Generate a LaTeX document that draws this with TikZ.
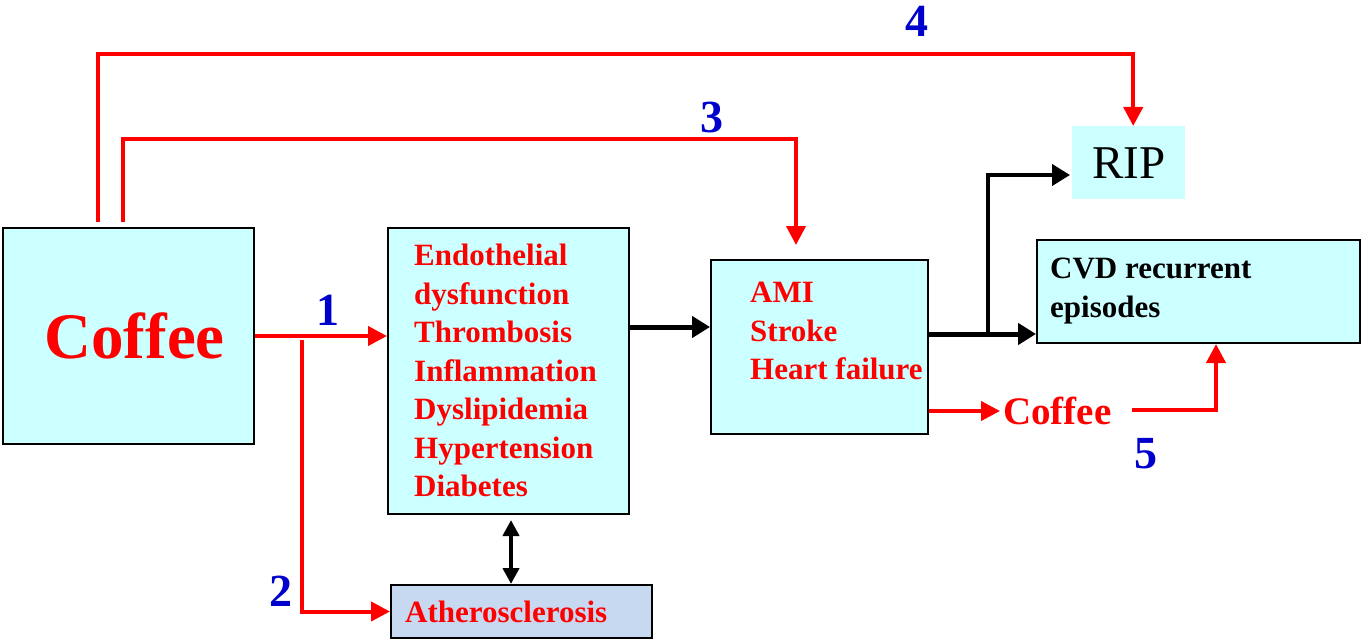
\documentclass[tikz,border=0pt]{standalone}
\usepackage{fontspec}
\setmainfont{Liberation Serif}
\usetikzlibrary{arrows.meta,calc}
\definecolor{boxcyan}{HTML}{CCFFFF}
\definecolor{athblue}{HTML}{C6D9F1}
\definecolor{numblue}{HTML}{0000CC}
\definecolor{myred}{HTML}{FF0000}
\begin{document}
\begin{tikzpicture}[x=1pt,y=-1pt,
  box/.style={draw=black, line width=2pt, fill=boxcyan, anchor=north west, inner sep=0pt},
  lbl/.style={anchor=north west, inner sep=0pt, align=left, font=\fontsize{31}{38.5}\selectfont\bfseries},
  num/.style={text=numblue, font=\fontsize{46}{46}\selectfont\bfseries, inner sep=0pt},
  redln/.style={draw=myred, line width=4pt},
  redarr/.style={redln, -{Triangle[length=19pt,width=19pt]}},
  blkarr/.style={draw=black, line width=5pt, -{Triangle[length=18pt,width=21pt]}},
]
\useasboundingbox (0,0) rectangle (1362,639);

% boxes
\node[box, minimum width=251pt, minimum height=216pt,
      text=myred, font=\fontsize{65}{65}\selectfont\bfseries] (coffee) at (2,227) {\hspace{12pt}Coffee};
\node[box, minimum width=241pt, minimum height=286pt] (endo) at (387,227) {};
\node[box, minimum width=217pt, minimum height=174pt] (ami) at (710,259) {};
\node[box, minimum width=323pt, minimum height=103pt] (cvd) at (1036,239) {};
\node[box, fill=athblue, minimum width=261pt, minimum height=53pt] (ath) at (390,584) {};
\node[fill=boxcyan, anchor=north west, inner sep=0pt, minimum width=113pt, minimum height=73pt,
      font=\fontsize{47}{47}\selectfont, text=black] (rip) at (1072,126) {RIP\hspace{20pt}};

% texts
\node[lbl, text=myred] (endotxt) at (414,244)
  {Endothelial\\dysfunction\\Thrombosis\\Inflammation\\Dyslipidemia\\Hypertension\\Diabetes};
\node[lbl, text=myred] (amitxt) at (750,282) {AMI\\Stroke\\Heart failure};
\node[lbl, text=black] (cvdtxt) at (1050,258) {CVD recurrent\\episodes};
\node[lbl, anchor=base west, text=myred] (athtxt) at (405,622) {Atherosclerosis};
\node[anchor=base west, inner sep=0pt, text=myred, font=\fontsize{39}{39}\selectfont\bfseries] (coffee2) at (1003,424) {Coffee};

% numbers
\node[num] (n1) at (328,310) {1};
\node[num] (n2) at (280.5,591) {2};
\node[num] (n3) at (711.5,117.5) {3};
\node[num] (n4) at (917,21) {4};
\node[num] (n5) at (1146,453.5) {5};

% red connectors
\draw[redarr] (coffee.east) -- (coffee.east -| endo.west);
\coordinate (b2) at (302,340);
\draw[redarr] (b2) |- (ath.west);
\draw[redarr] ($(coffee.north)+(-30.5,-5)$) -- ++(0,-168) -| ([xshift=4.5pt]rip.north);
\draw[redarr] ($(coffee.north)+(-5.5,-5)$) -- ++(0,-83) -| ([xshift=-23.5pt,yshift=14pt]ami.north);
\draw[redarr] (ami.east |- 0,411) -- ([xshift=-3pt]coffee2.west |- 0,411);
\draw[redarr] ([xshift=20pt]coffee2.east |- 0,410) -| ([xshift=17.5pt]cvd.south);

% black connectors
\draw[blkarr] (endo.east |- 0,327) -- (ami.west |- 0,327);
\draw[blkarr] (ami.east |- 0,334) -- (cvd.west |- 0,334);
\coordinate (b6) at (988,334);
\draw[blkarr, line width=4pt] (b6) |- ([xshift=-2pt]rip.west |- 0,175);
\draw[draw=black, line width=4pt, {Triangle[length=16pt,width=16pt]}-{Triangle[length=16pt,width=16pt]}]
  ([xshift=2.5pt,yshift=-5pt]endo.south) -- ([xshift=2.5pt]endo.south |- ath.north);
\end{tikzpicture}
\end{document}
